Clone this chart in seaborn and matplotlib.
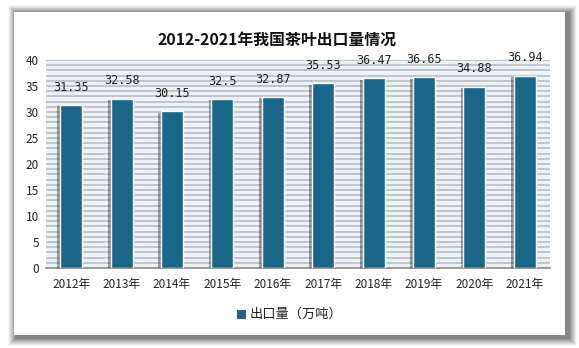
import matplotlib
matplotlib.use("Agg")
import matplotlib.pyplot as plt
import matplotlib.patheffects as pe
from matplotlib.patches import Rectangle
import seaborn as sns
import pandas as pd

years = ["2012年", "2013年", "2014年", "2015年", "2016年",
         "2017年", "2018年", "2019年", "2020年", "2021年"]
export_volume = [31.35, 32.58, 30.15, 32.5, 32.87, 35.53, 36.47, 36.65, 34.88, 36.94]
value_labels = ["31.35", "32.58", "30.15", "32.5", "32.87",
                "35.53", "36.47", "36.65", "34.88", "36.94"]
series_name = "出口量（万吨）"
title = "2012-2021年我国茶叶出口量情况"

sns.set_theme(style="white")
plt.rcParams["font.family"] = ["Noto Sans CJK SC", "DejaVu Sans"]

W, H = 579, 348
fig = plt.figure(figsize=(W / 100, H / 100), dpi=100)
fig.patch.set_facecolor("white")

# card with soft drop shadow
cx0, cy0, cx1, cy1 = 14, 12, 565, 335
for i, a in enumerate([0.04, 0.05, 0.06, 0.07, 0.08, 0.09, 0.10, 0.11]):
    d = 9 - i
    fig.patches.append(Rectangle(((cx0 - d + 3) / W, 1 - (cy1 + d + 2) / H),
                                 (cx1 - cx0 + 2 * d) / W, (cy1 - cy0 + 2 * d) / H,
                                 transform=fig.transFigure, facecolor="black",
                                 alpha=a, edgecolor="none", zorder=0))
fig.patches.append(Rectangle((cx0 / W, 1 - cy1 / H), (cx1 - cx0) / W, (cy1 - cy0) / H,
                             transform=fig.transFigure, facecolor="white",
                             edgecolor="none", zorder=1))

px0, px1, py0, py1 = 46, 550, 60, 268
ax = fig.add_axes([px0 / W, 1 - py1 / H, (px1 - px0) / W, (py1 - py0) / H], zorder=2)
ax.set_facecolor("#ecf2f8")

df = pd.DataFrame({"year": years, "value": export_volume})
sns.barplot(data=df, x="year", y="value", color="#1b6789", width=0.44,
            saturation=1, ax=ax, zorder=3)

for bar in ax.patches:
    bar.set_edgecolor("white")
    bar.set_linewidth(1.0)
    bar.set_path_effects([pe.SimplePatchShadow(offset=(-2, -1), shadow_rgbFace="black",
                                               alpha=0.35), pe.Normal()])

for i, (v, s) in enumerate(zip(export_volume, value_labels)):
    ax.text(i, v + 2.2, s, ha="center", va="bottom", fontsize=8.5,
            family=["DejaVu Sans Mono"], color="#222222", zorder=4)

ax.set_ylim(0, 40)
ax.set_xlim(-0.5, 9.5)
ax.set_yticks(range(0, 41, 5))
for y in range(1, 41):
    ax.axhline(y, color="#bcc1c7", lw=1.3, zorder=1)

ax.set_xlabel("")
ax.set_ylabel("")
ax.tick_params(axis="both", length=0, labelsize=8.5, colors="#222222")
ax.tick_params(axis="x", pad=7)
ax.tick_params(axis="y", pad=5)
for side in ["top", "right", "left"]:
    ax.spines[side].set_visible(False)
ax.spines["bottom"].set_color("#888888")
ax.spines["bottom"].set_linewidth(1.2)

fig.text(277 / W, 1 - 40 / H, title, ha="center", va="center", fontsize=11.4,
         fontweight="bold", color="#111111", zorder=5)

# legend
fig.patches.append(Rectangle((237 / W, 1 - 319 / H), 9 / W, 9 / H,
                             transform=fig.transFigure, facecolor="#1b6789",
                             edgecolor="none", zorder=5))
fig.text(250 / W, 1 - 314.5 / H, series_name, ha="left", va="center",
         fontsize=9.5, color="#222222", zorder=5)

fig.savefig("out.png", dpi=100)
